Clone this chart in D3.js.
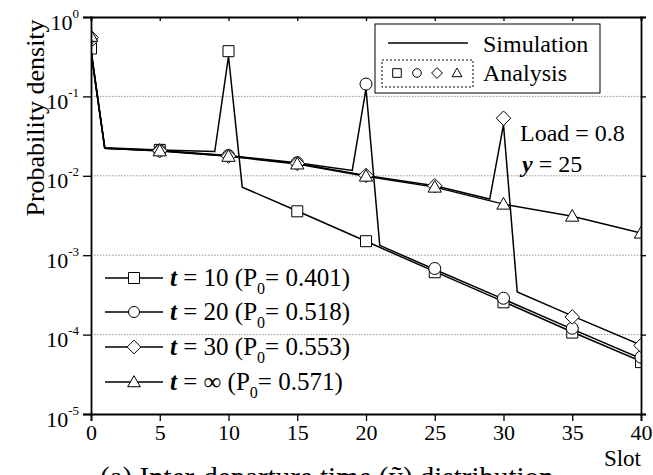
<!DOCTYPE html>
<html>
<head>
<meta charset="utf-8">
<script src="https://cdn.jsdelivr.net/npm/d3@7"></script>
<style>
  body { margin: 0; background: #fff; }
  svg { display: block; }
  text { font-family: "Liberation Serif", "Times New Roman", serif; fill: #000; }
</style>
</head>
<body>
<div id="chart"></div>
<script>
// analysis values (markers) at every 5th slot
var markerSlots = [0, 5, 10, 15, 20, 25, 30, 35, 40];
var anaT10  = [0.401, 0.0212, 0.371, 0.00357, 0.00150, 6.1e-4, 2.55e-4, 1.06e-4, 4.5e-5];
var anaT20  = [0.518, 0.0208, 0.0180, 0.0146, 0.143, 6.8e-4, 2.87e-4, 1.2e-4, 5.2e-5];
var anaT30  = [0.553, 0.0207, 0.0177, 0.0143, 0.0101, 0.0075, 0.0531, 1.67e-4, 7.3e-5];
var anaInf  = [0.571, 0.0206, 0.0176, 0.0141, 0.0099, 0.0072, 0.0044, 0.0031, 0.0019];

// simulation curves, read at the corners of each line
var simT10Slots = [0, 1, 5, 9, 10, 11, 15, 20, 25, 30, 35, 40];
var simT10 = [0.36, 0.0225, 0.0212, 0.0202, 0.32, 0.0072, 0.0036, 0.0015, 6.2e-4, 2.6e-4, 1.08e-4, 4.6e-5];
var simT20Slots = [0, 1, 5, 10, 15, 19, 20, 21, 25, 30, 35, 40];
var simT20 = [0.37, 0.0222, 0.0208, 0.0180, 0.0146, 0.0117, 0.125, 0.00133, 6.6e-4, 2.8e-4, 1.17e-4, 5.0e-5];
var simT30Slots = [0, 1, 5, 10, 15, 20, 25, 29, 30, 31, 35, 40];
var simT30 = [0.38, 0.0222, 0.0207, 0.0177, 0.0143, 0.0101, 0.0075, 0.0051, 0.044, 3.44e-4, 1.72e-4, 7.4e-5];
var simInfSlots = [0, 1, 5, 10, 15, 20, 25, 30, 35, 40];
var simInf = [0.39, 0.0222, 0.0206, 0.0176, 0.0141, 0.0099, 0.0072, 0.0044, 0.0031, 0.0019];

var xTicks = [0, 5, 10, 15, 20, 25, 30, 35, 40];
var yTicks = [1e-5, 1e-4, 1e-3, 1e-2, 1e-1, 1];
var legendT = ["10", "20", "30", "\u221e"];
var legendP0 = ["0.401", "0.518", "0.553", "0.571"];

var width = 653, height = 475;
var pLeft = 91, pRight = 641, pTop = 17, pBottom = 414;

var svg = d3.select("#chart").append("svg")
    .attr("width", width)
    .attr("height", height);

var x = d3.scaleLinear().domain([0, 40]).range([pLeft, pRight]);
var y = d3.scaleLog().domain([1e-5, 1]).range([pBottom, pTop]);

svg.append("defs").append("clipPath").attr("id", "plotclip")
  .append("rect")
    .attr("x", pLeft).attr("y", pTop)
    .attr("width", pRight - pLeft).attr("height", pBottom - pTop);

// dotted grid lines at decades
svg.append("g").selectAll("line")
    .data(yTicks.slice(1, 5))
  .enter().append("line")
    .attr("x1", pLeft).attr("x2", pRight)
    .attr("y1", d => y(d)).attr("y2", d => y(d))
    .attr("stroke", "#777")
    .attr("stroke-width", 0.8)
    .attr("stroke-dasharray", "1.5,1.5");

// marker shapes
function shapePath(kind, s) {
  if (kind == "square") return "M" + (-s) + "," + (-s) + "H" + s + "V" + s + "H" + (-s) + "Z";
  if (kind == "circle") return "M" + (-s) + ",0A" + s + "," + s + " 0 1,0 " + s + ",0A" + s + "," + s + " 0 1,0 " + (-s) + ",0Z";
  if (kind == "diamond") { var d = s * 1.25; return "M0," + (-d) + "L" + d + ",0L0," + d + "L" + (-d) + ",0Z"; }
  var h = s * 1.15; // triangle
  return "M0," + (-h) + "L" + (s * 1.15) + "," + (h * 0.75) + "L" + (-s * 1.15) + "," + (h * 0.75) + "Z";
}

var plot = svg.append("g").attr("clip-path", "url(#plotclip)");

var line = d3.line()
    .x(d => x(d[0]))
    .y(d => y(d[1]));

var sims = [
  [simT10Slots, simT10],
  [simT20Slots, simT20],
  [simT30Slots, simT30],
  [simInfSlots, simInf]
];
sims.forEach(function(s) {
  plot.append("path")
      .datum(d3.zip(s[0], s[1]))
      .attr("d", line)
      .attr("fill", "none")
      .attr("stroke", "#000")
      .attr("stroke-width", 1.5)
      .attr("stroke-linejoin", "miter");
});

var analysis = [
  ["square", anaT10, 5.5],
  ["circle", anaT20, 6],
  ["diamond", anaT30, 5.8],
  ["triangle", anaInf, 5.8]
];
analysis.forEach(function(a) {
  plot.append("g").selectAll("path")
      .data(d3.zip(markerSlots, a[1]))
    .enter().append("path")
      .attr("transform", d => "translate(" + x(d[0]) + "," + y(d[1]) + ")")
      .attr("d", shapePath(a[0], a[2]))
      .attr("fill", "#fff")
      .attr("stroke", "#000")
      .attr("stroke-width", 1);
});

// axes
var xAxis = svg.append("g")
    .attr("transform", "translate(0," + pBottom + ")")
    .call(d3.axisBottom(x).tickValues(xTicks).tickSize(7).tickPadding(3));
xAxis.selectAll("text").attr("font-size", 22);

svg.append("g")
    .attr("transform", "translate(0," + pTop + ")")
    .call(d3.axisTop(x).tickValues(xTicks).tickSize(-4).tickFormat(""));

var yAxis = svg.append("g")
    .attr("transform", "translate(" + pLeft + ",0)")
    .call(d3.axisLeft(y).tickValues(yTicks).tickSize(8).tickPadding(4));
yAxis.selectAll("text")
    .attr("font-size", 22)
    .attr("dy", "0.55em")
    .each(function(d) {
      var t = d3.select(this);
      t.text("10");
      t.append("tspan")
          .attr("font-size", 13)
          .attr("dy", -12)
          .text(Math.round(Math.log10(d)));
    });

svg.append("g")
    .attr("transform", "translate(" + pRight + ",0)")
    .call(d3.axisRight(y).tickValues(yTicks).tickSize(5).tickFormat(""));

svg.selectAll(".domain").attr("stroke", "#000").attr("stroke-width", 1.8);
svg.selectAll(".tick line").attr("stroke", "#000").attr("stroke-width", 1.3);

// axis titles
svg.append("text")
    .attr("transform", "translate(44,118) rotate(-90)")
    .attr("text-anchor", "middle")
    .attr("font-size", 26)
    .text("Probability density");

svg.append("text")
    .attr("x", pRight)
    .attr("y", 466)
    .attr("text-anchor", "end")
    .attr("font-size", 23)
    .text("Slot");

// figure caption, cut by the bottom edge as in the source
svg.append("text")
    .attr("x", 100)
    .attr("y", 487)
    .attr("font-size", 29)
    .text("(a) Inter-departure time (\u1ef9) distribution");

// top-right legend
var lg = svg.append("g");
lg.append("rect")
    .attr("x", 375).attr("y", 24).attr("width", 225).attr("height", 69)
    .attr("fill", "#fff").attr("stroke", "#000").attr("stroke-width", 1);
lg.append("line")
    .attr("x1", 388).attr("x2", 468).attr("y1", 43).attr("y2", 43)
    .attr("stroke", "#000").attr("stroke-width", 1.4);
lg.append("text").attr("x", 483).attr("y", 52).attr("font-size", 24).text("Simulation");
lg.append("rect")
    .attr("x", 382).attr("y", 60).attr("width", 91).attr("height", 27)
    .attr("fill", "none").attr("stroke", "#000").attr("stroke-width", 1)
    .attr("stroke-dasharray", "2,2");
var smallKinds = ["square", "circle", "diamond", "triangle"];
lg.selectAll(".sm")
    .data(smallKinds)
  .enter().append("path")
    .attr("transform", (d, i) => "translate(" + (397 + i * 20) + ",73)")
    .attr("d", d => shapePath(d, 4.3))
    .attr("fill", "#fff").attr("stroke", "#000").attr("stroke-width", 1);
lg.append("text").attr("x", 483).attr("y", 81).attr("font-size", 24).text("Analysis");

// parameter annotations
svg.append("text").attr("x", 520).attr("y", 141).attr("font-size", 24).text("Load = 0.8");
var yl = svg.append("text").attr("x", 522).attr("y", 172).attr("font-size", 24);
yl.append("tspan").attr("font-weight", "bold").attr("font-style", "italic").text("y");
yl.append("tspan").text(" = 25");

// bottom-left legend
var rows = [278, 312, 347, 382];
rows.forEach(function(ry, i) {
  var g = svg.append("g");
  g.append("line")
      .attr("x1", 105).attr("x2", 163).attr("y1", ry).attr("y2", ry)
      .attr("stroke", "#000").attr("stroke-width", 1.4);
  g.append("path")
      .attr("transform", "translate(134," + ry + ")")
      .attr("d", shapePath(smallKinds[i], 5.5))
      .attr("fill", "#fff").attr("stroke", "#000").attr("stroke-width", 1);
  var t = g.append("text").attr("x", 170).attr("y", ry + 8).attr("font-size", 25);
  t.append("tspan").attr("font-weight", "bold").attr("font-style", "italic").text("t");
  t.append("tspan").text(" = " + legendT[i] + " (P");
  t.append("tspan").attr("font-size", 16).attr("dy", 8).text("0");
  t.append("tspan").attr("dy", -8).text("= " + legendP0[i] + ")");
});
</script>
</body>
</html>
